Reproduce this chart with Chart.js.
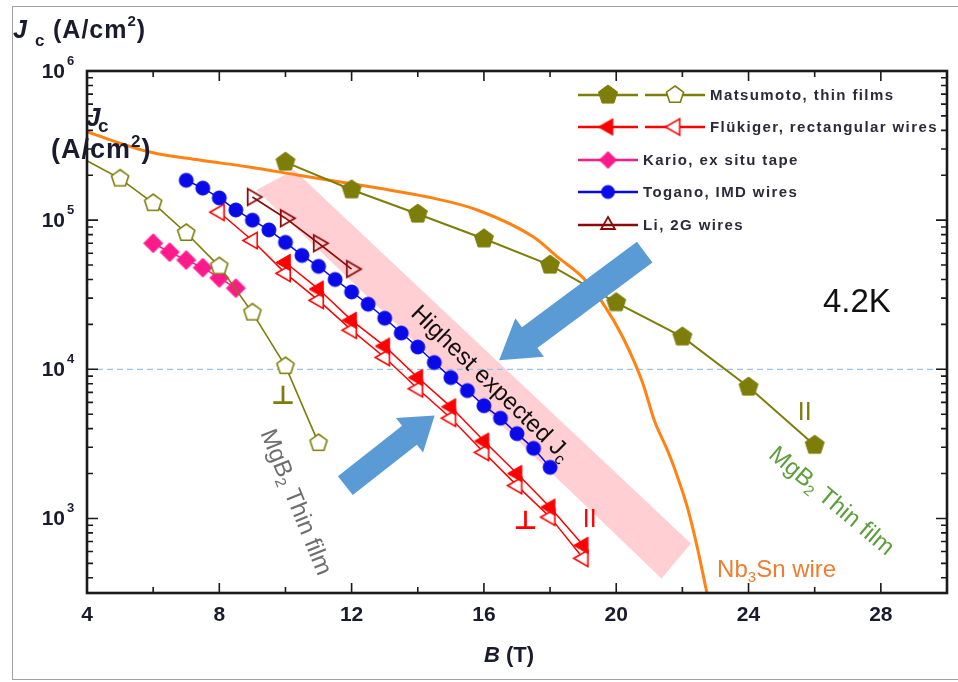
<!DOCTYPE html>
<html>
<head>
<meta charset="utf-8">
<script src="https://cdn.jsdelivr.net/npm/chart.js@4.4.0/dist/chart.umd.min.js"></script>
<style>
  html, body { margin: 0; padding: 0; background: #fff; }
  #wrap { width: 958px; height: 682px; }
</style>
</head>
<body>
<div id="wrap"><canvas id="myChart" width="958" height="682"></canvas></div>
<script>
// ---- data (B in T, Jc in A/cm2) ----
var matsuParB   = [10, 12, 14, 16, 18, 20, 22, 24, 26];
var matsuParJc  = [2.45e5, 1.6e5, 1.1e5, 7.5e4, 5.0e4, 2.8e4, 1.65e4, 7.6e3, 3.1e3];
var matsuPerpB  = [4, 5, 6, 7, 8, 9, 10, 11];
var matsuPerpJc = [2.5e5, 1.9e5, 1.3e5, 8.2e4, 4.9e4, 2.4e4, 1.05e4, 3.2e3];
var flukFillB   = [10, 11, 12, 13, 14, 15, 16, 17, 18, 19];
var flukFillJc  = [5.2e4, 3.45e4, 2.13e4, 1.43e4, 8.8e3, 5.6e3, 3.3e3, 2.0e3, 1.19e3, 660];
var flukOpenB   = [8, 9, 10, 11, 12, 13, 14, 15, 16, 17, 18, 19];
var flukOpenJc  = [1.13e5, 7.3e4, 4.4e4, 2.9e4, 1.83e4, 1.2e4, 7.4e3, 4.7e3, 2.77e3, 1.66e3, 1.02e3, 540];
var karioB      = [6, 6.5, 7, 7.5, 8, 8.5];
var karioJc     = [7.0e4, 6.1e4, 5.4e4, 4.8e4, 4.1e4, 3.5e4];
var toganoB     = [7, 7.5, 8, 8.5, 9, 9.5, 10, 10.5, 11, 11.5, 12, 12.5, 13, 13.5, 14, 14.5, 15, 15.5, 16, 16.5, 17, 17.5, 18];
var toganoJc    = [1.85e5, 1.64e5, 1.41e5, 1.17e5, 1.0e5, 8.6e4, 7.1e4, 5.8e4, 4.9e4, 4.0e4, 3.3e4, 2.73e4, 2.2e4, 1.75e4, 1.41e4, 1.11e4, 8.8e3, 7.2e3, 5.7e3, 4.7e3, 3.7e3, 2.95e3, 2.2e3];
var liB         = [9, 10, 11, 12];
var liJc        = [1.43e5, 1.03e5, 7.0e4, 4.7e4];
var nb3snB      = [4, 5.9, 7.4, 8.9, 10.4, 12.8, 14.3, 15.8, 17.5, 18.25, 19, 19.6, 20.2, 20.8, 21.15, 21.55, 21.75, 22.15, 22.45, 22.75];
var nb3snJc     = [3.9e5, 2.86e5, 2.53e5, 2.27e5, 2.0e5, 1.64e5, 1.43e5, 1.17e5, 7.7e4, 5.6e4, 4.1e4, 2.77e4, 1.64e4, 8.1e3, 4.55e3, 2.86e3, 2.2e3, 1.19e3, 640, 310];
var refB        = [4, 30];
var refJc       = [1e4, 1e4];

// shaded "highest expected Jc" band corners
var bandB  = [9.12, 10.26, 22.26, 21.37];
var bandJc = [1.59e5, 2.17e5, 680, 395];

// arrows (tail -> tip)
var arrowTailB  = [20.86, 11.81];
var arrowTailJc = [6.1e4, 1.66e3];
var arrowTipB   = [16.46, 14.51];
var arrowTipJc  = [1.15e4, 4.9e3];

// axis ticks
var xTickMajor = [4, 8, 12, 16, 20, 24, 28];
var xTickMinor = [6, 10, 14, 18, 22, 26];
var yDecades   = [3, 4, 5, 6];

var legendNames = ['Matsumoto, thin films', 'Flükiger, rectangular wires', 'Kario, ex situ tape', 'Togano, IMD wires', 'Li, 2G wires'];

// ---- colours ----
var OLIVE = '#7d7d0a', RED = '#ff0000', PINK = '#ff1a8c', BLUE = '#0a0ae8', DRED = '#8b0a0a', ORANGE = '#ff8214';
var FONT = '"Liberation Sans", Arial, sans-serif';
var NARROW = '"Liberation Sans Narrow", "Liberation Sans", Arial, sans-serif';

function shapePath(g, shape, x, y, r, rotDeg) {
  g.beginPath();
  if (shape === 'circle') { g.arc(x, y, r, 0, Math.PI * 2); return; }
  var n = shape === 'pentagon' ? 5 : (shape === 'diamond' ? 4 : 3);
  var rot = (rotDeg || 0) * Math.PI / 180;
  for (var i = 0; i < n; i++) {
    var a = rot - Math.PI / 2 + i * 2 * Math.PI / n;
    var px = x + r * Math.cos(a), py = y + r * Math.sin(a);
    if (i) g.lineTo(px, py); else g.moveTo(px, py);
  }
  g.closePath();
}

function markerCanvas(shape, r, fill, stroke, lw, rot) {
  var s = Math.ceil(2 * r + 2 * lw + 2);
  var c = document.createElement('canvas');
  c.width = s; c.height = s;
  var g = c.getContext('2d');
  shapePath(g, shape, s / 2, s / 2, r, rot);
  if (fill) { g.fillStyle = fill; g.fill(); }
  if (stroke) { g.lineWidth = lw; g.strokeStyle = stroke; g.stroke(); }
  return c;
}

var mk = {
  pentFill: markerCanvas('pentagon', 10, OLIVE, OLIVE, 1, 0),
  pentOpen: markerCanvas('pentagon', 9, '#fff', OLIVE, 1.6, 0),
  triFill:  markerCanvas('triangle', 9.5, RED, RED, 1, 270),
  triOpen:  markerCanvas('triangle', 9.5, '#fff', RED, 1.6, 270),
  diamond:  markerCanvas('diamond', 9.5, PINK, PINK, 1, 0),
  circle:   markerCanvas('circle', 7, BLUE, BLUE, 1, 0),
  triLi:    markerCanvas('triangle', 9.5, null, DRED, 1.8, 90)
};

function pts(bs, js) { return bs.map(function (b, i) { return { x: b, y: js[i] }; }); }

function runsWidth(ctx, runs) {
  var w = 0;
  runs.forEach(function (r) { ctx.font = r.f; w += ctx.measureText(r.t).width; });
  return w;
}
function drawRuns(ctx, runs, x, y, align) {
  var w = runsWidth(ctx, runs);
  var cx = align === 'center' ? x - w / 2 : (align === 'right' ? x - w : x);
  ctx.textAlign = 'left';
  runs.forEach(function (r) {
    ctx.font = r.f;
    ctx.fillText(r.t, cx, y + (r.dy || 0));
    cx += ctx.measureText(r.t).width;
  });
}

function drawArrow(ctx, x0, y0, x1, y1, shaft, headW, headL) {
  var ang = Math.atan2(y1 - y0, x1 - x0), len = Math.hypot(x1 - x0, y1 - y0);
  ctx.save();
  ctx.translate(x0, y0);
  ctx.rotate(ang);
  ctx.beginPath();
  ctx.moveTo(0, -shaft / 2);
  ctx.lineTo(len - headL, -shaft / 2);
  ctx.lineTo(len - headL, -headW / 2);
  ctx.lineTo(len, 0);
  ctx.lineTo(len - headL, headW / 2);
  ctx.lineTo(len - headL, shaft / 2);
  ctx.lineTo(0, shaft / 2);
  ctx.closePath();
  ctx.fillStyle = '#5b9bd5';
  ctx.fill();
  ctx.restore();
}

// text annotations placed in data coordinates
var notes = [
  { b: 16.2, j: 8.0e3, ang: 44, color: '#111', align: 'center',
    runs: [{ t: 'Highest expected J', f: '24px ' + FONT }, { t: 'c', f: '16px ' + FONT, dy: 7 }] },
  { b: 26.25, j: 2.77e4, ang: 0, color: '#111', align: 'left',
    runs: [{ t: '4.2K', f: '33px ' + FONT }] },
  { b: 10.3, j: 1.28e3, ang: 68, color: '#6e6e6e', align: 'center',
    runs: [{ t: 'MgB', f: '24px ' + FONT }, { t: '2', f: '15px ' + FONT, dy: 7 }, { t: ' Thin film', f: '24px ' + FONT }] },
  { b: 26.5, j: 1.3e3, ang: 40, color: '#5e9e3c', align: 'center',
    runs: [{ t: 'MgB', f: '24px ' + FONT }, { t: '2', f: '15px ' + FONT, dy: 7 }, { t: ' Thin film', f: '24px ' + FONT }] },
  { b: 23.05, j: 448, ang: 0, color: '#ee7d31', align: 'left',
    runs: [{ t: 'Nb', f: '24px ' + FONT }, { t: '3', f: '15px ' + FONT, dy: 7 }, { t: 'Sn wire', f: '24px ' + FONT }] },
  { b: 9.93, j: 6.5e3, ang: 0, color: OLIVE, align: 'center', runs: [{ t: '⊥', f: 'bold 26px "DejaVu Sans", sans-serif' }] },
  { b: 25.7, j: 5.07e3, ang: 0, color: OLIVE, align: 'center', runs: [{ t: 'II', f: '25px ' + FONT }] },
  { b: 17.26, j: 940, ang: 0, color: RED, align: 'center', runs: [{ t: '⊥', f: 'bold 26px "DejaVu Sans", sans-serif' }] },
  { b: 19.2, j: 970, ang: 0, color: RED, align: 'center', runs: [{ t: 'II', f: '25px ' + FONT }] }
];

var decor = {
  id: 'decor',
  beforeDatasetsDraw: function (chart) {
    var ctx = chart.ctx, xs = chart.scales.x, ys = chart.scales.y;
    ctx.save();
    ctx.fillStyle = '#ffcfd3';
    ctx.beginPath();
    bandB.forEach(function (b, i) {
      var px = xs.getPixelForValue(b), py = ys.getPixelForValue(bandJc[i]);
      if (i) ctx.lineTo(px, py); else ctx.moveTo(px, py);
    });
    ctx.closePath();
    ctx.fill();
    ctx.restore();
  },
  afterDatasetsDraw: function (chart) {
    var ctx = chart.ctx, xs = chart.scales.x, ys = chart.scales.y;
    // arrows
    var dims = [[26, 48, 38], [24, 44, 32]];
    arrowTailB.forEach(function (b, i) {
      drawArrow(ctx, xs.getPixelForValue(b), ys.getPixelForValue(arrowTailJc[i]),
        xs.getPixelForValue(arrowTipB[i]), ys.getPixelForValue(arrowTipJc[i]),
        dims[i][0], dims[i][1], dims[i][2]);
    });
    // annotations
    ctx.save();
    ctx.textBaseline = 'middle';
    notes.forEach(function (n) {
      ctx.save();
      ctx.translate(xs.getPixelForValue(n.b), ys.getPixelForValue(n.j));
      ctx.rotate(n.ang * Math.PI / 180);
      ctx.fillStyle = n.color;
      drawRuns(ctx, n.runs, 0, 0, n.align);
      ctx.restore();
    });
    ctx.restore();
  },
  afterDraw: function (chart) {
    var ctx = chart.ctx, xs = chart.scales.x, ys = chart.scales.y, a = chart.chartArea;
    ctx.save();
    // outer frame of the picture
    ctx.strokeStyle = '#a0a0a0';
    ctx.lineWidth = 1;
    ctx.strokeRect(12.5, 6.5, 960, 673);

    // ticks (inside) on all four sides
    ctx.strokeStyle = '#1a1a1a';
    ctx.lineWidth = 1.6;
    ctx.beginPath();
    function xt(v, len) {
      var p = xs.getPixelForValue(v);
      ctx.moveTo(p, a.bottom); ctx.lineTo(p, a.bottom - len);
      ctx.moveTo(p, a.top); ctx.lineTo(p, a.top + len);
    }
    function yt(v, len) {
      var p = ys.getPixelForValue(v);
      if (p < a.top - 0.5 || p > a.bottom + 0.5) return;
      ctx.moveTo(a.left, p); ctx.lineTo(a.left + len, p);
      ctx.moveTo(a.right, p); ctx.lineTo(a.right - len, p);
    }
    xTickMajor.forEach(function (v) { xt(v, 10); });
    xTickMinor.forEach(function (v) { xt(v, 6); });
    for (var e = 2; e <= 6; e++) {
      for (var k = 1; k <= 9; k++) {
        yt(k * Math.pow(10, e), k === 1 ? 11 : 6);
      }
    }
    ctx.stroke();

    // axis frame
    ctx.lineWidth = 2.6;
    ctx.strokeRect(a.left, a.top, a.right - a.left, a.bottom - a.top);

    // x tick labels
    ctx.fillStyle = '#1b1b2e';
    ctx.textBaseline = 'middle';
    ctx.textAlign = 'center';
    ctx.font = 'bold 21px ' + NARROW;
    xTickMajor.forEach(function (v) { ctx.fillText(String(v), xs.getPixelForValue(v), a.bottom + 22); });

    // y tick labels 10^n
    yDecades.forEach(function (d) {
      var p = ys.getPixelForValue(Math.pow(10, d));
      ctx.textAlign = 'right';
      ctx.font = 'bold 21px ' + FONT;
      ctx.fillText('10', 65, p + 1);
      ctx.textAlign = 'left';
      ctx.font = 'bold 13px ' + FONT;
      ctx.fillText(String(d), 67, p - 10);
    });

    // axis titles
    drawRuns(ctx, [{ t: 'B', f: 'italic bold 22px ' + FONT }, { t: ' (T)', f: 'bold 22px ' + NARROW }],
      (a.left + a.right) / 2 - 8, 656, 'center');

    ctx.textAlign = 'left';
    ctx.font = 'italic bold 25px ' + FONT;
    ctx.fillText('J', 13, 31);
    ctx.font = 'bold 17px ' + FONT;
    ctx.fillText('c', 35, 41);
    ctx.letterSpacing = '1px';
    drawRuns(ctx, [
      { t: '(A/cm', f: 'bold 25px ' + FONT },
      { t: '2', f: 'bold 15px ' + FONT, dy: -9 },
      { t: ')', f: 'bold 25px ' + FONT }
    ], 53, 31, 'left');

    // duplicated label inside the frame
    ctx.letterSpacing = '0px';
    ctx.font = 'italic bold 26px ' + FONT;
    ctx.fillText('J', 86, 119);
    ctx.font = 'bold 19px ' + FONT;
    ctx.fillText('c', 98, 127);
    ctx.letterSpacing = '1px';
    drawRuns(ctx, [
      { t: '(A/cm', f: 'bold 27px ' + FONT },
      { t: '2', f: 'bold 17px ' + FONT, dy: -9 },
      { t: ')', f: 'bold 27px ' + FONT }
    ], 51, 151, 'left');
    ctx.letterSpacing = '0px';

    // legend
    var rowsY = [95, 127, 160, 192, 225];
    var legend = [
      { c: OLIVE, m: [mk.pentFill, mk.pentOpen] },
      { c: RED,   m: [mk.triFill, mk.triOpen] },
      { c: PINK,  m: [markerCanvas('diamond', 8.5, PINK, PINK, 1, 0)] },
      { c: BLUE,  m: [markerCanvas('circle', 6.5, BLUE, BLUE, 1, 0)] },
      { c: DRED,  m: [markerCanvas('triangle', 8, null, DRED, 1.8, 0)] }
    ];
    legend.forEach(function (it, i) {
      var y = rowsY[i];
      var x0 = 578;
      it.m.forEach(function (m, j) {
        var sx = x0 + j * 67;
        ctx.strokeStyle = it.c;
        ctx.lineWidth = 2.5;
        ctx.beginPath();
        ctx.moveTo(sx, y); ctx.lineTo(sx + 60, y);
        ctx.stroke();
        ctx.drawImage(m, sx + 30 - m.width / 2, y - m.height / 2);
      });
      var tx = it.m.length === 2 ? 710 : 643;
      ctx.fillStyle = '#2a2a38';
      ctx.font = 'bold 15px ' + FONT;
      ctx.letterSpacing = '1.4px';
      ctx.textAlign = 'left';
      ctx.fillText(legendNames[i], tx, y + 1);
      ctx.letterSpacing = '0px';
    });
    ctx.restore();
  }
};

const config = {
  type: 'line',
  data: {
    datasets: [
      { label: 'Matsumoto, thin films (par)', data: pts(matsuParB, matsuParJc),
        borderColor: OLIVE, borderWidth: 2, pointStyle: mk.pentFill, pointRadius: 9, tension: 0 },
      { label: 'Matsumoto, thin films (perp)', data: pts(matsuPerpB, matsuPerpJc),
        borderColor: OLIVE, borderWidth: 1.6, pointStyle: mk.pentOpen,
        pointRadius: function (c) { return c.dataIndex === 0 ? 0 : 9; }, tension: 0 },
      { label: 'Togano, IMD wires', data: pts(toganoB, toganoJc),
        borderColor: BLUE, borderWidth: 1.5, pointStyle: mk.circle, pointRadius: 6, tension: 0 },
      { label: 'Li, 2G wires', data: pts(liB, liJc),
        borderColor: DRED, borderWidth: 1.6, pointStyle: mk.triLi, pointRadius: 8, tension: 0 },
      { label: 'Flükiger, rectangular wires (filled)', data: pts(flukFillB, flukFillJc),
        borderColor: RED, borderWidth: 1.5, pointStyle: mk.triFill, pointRadius: 8, tension: 0 },
      { label: 'Flükiger, rectangular wires (open)', data: pts(flukOpenB, flukOpenJc),
        borderColor: RED, borderWidth: 1.5, pointStyle: mk.triOpen, pointRadius: 8, tension: 0 },
      { label: 'Kario, ex situ tape', data: pts(karioB, karioJc),
        borderColor: PINK, borderWidth: 1.5, pointStyle: mk.diamond, pointRadius: 8, tension: 0 },
      { label: 'Nb3Sn wire', data: pts(nb3snB, nb3snJc),
        borderColor: ORANGE, borderWidth: 3, pointRadius: 0, cubicInterpolationMode: 'monotone' },
      { label: 'ref', data: pts(refB, refJc),
        borderColor: '#9dc3e6', borderWidth: 1.2, borderDash: [6, 4], pointRadius: 0 }
    ]
  },
  options: {
    responsive: false,
    animation: false,
    events: [],
    layout: { padding: { left: 87, top: 71, right: 3, bottom: 89 } },
    plugins: { legend: { display: false }, tooltip: { enabled: false } },
    scales: {
      x: { type: 'linear', min: 4, max: 30, display: false },
      y: { type: 'logarithmic', min: Math.pow(10, 2.5), max: 1e6, display: false }
    }
  },
  plugins: [decor]
};

var ctx = document.getElementById('myChart');
var myChart = new Chart(ctx, config);
</script>
</body>
</html>
